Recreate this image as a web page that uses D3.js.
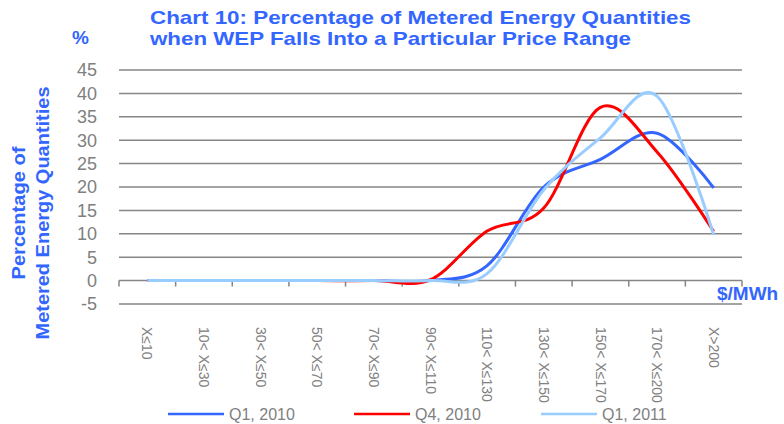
<!DOCTYPE html>
<html>
<head>
<meta charset="utf-8">
<script src="https://cdn.jsdelivr.net/npm/d3@7"></script>
<style>
  body { margin: 0; background: #fff; }
  text { font-family: "Liberation Sans", Arial, sans-serif; }
</style>
</head>
<body>
<div class="canvas"></div>
<script>
const categories = ['X≤10', '10< X≤30', '30< X≤50', '50< X≤70', '70< X≤90', '90< X≤110',
    '110< X≤130', '130< X≤150', '150< X≤170', '170< X≤200', 'X>200'];
const q1_2010 = [0, 0, 0, 0, 0, 0, 3.2, 20, 25.9, 31.5, 19.8];
const q4_2010 = [0, 0, 0, 0, 0, 0.2, 10.6, 15.5, 37, 27.5, 10.5];
const q1_2011 = [0, 0, 0, 0, 0, 0, 1.5, 19.4, 30.5, 39.4, 9.8];
const seriesNames = ['Q1, 2010', 'Q4, 2010', 'Q1, 2011'];
const yTicks = [-5, 0, 5, 10, 15, 20, 25, 30, 35, 40, 45];

const blue = '#3366ff';
const colour = d3.scaleOrdinal().domain(seriesNames).range(['#3366ff', '#ff0000', '#99ccff']);
const grey = '#808080';

const svg = d3.select('.canvas')
    .append('svg')
    .attr('width', 784)
    .attr('height', 424);

const x = d3.scaleBand().domain(categories).range([119, 742]);
const y = d3.scaleLinear().domain([-5, 45]).range([304, 70]);
const cx = d => x(d) + x.bandwidth() / 2;

// titles
const title = svg.append('g').attr('fill', blue).attr('font-weight', 'bold').attr('font-size', 19);
title.append('text').attr('x', 150).attr('y', 24)
    .attr('textLength', 541).attr('lengthAdjust', 'spacingAndGlyphs')
    .text('Chart 10: Percentage of Metered Energy Quantities');
title.append('text').attr('x', 150).attr('y', 45)
    .attr('textLength', 481).attr('lengthAdjust', 'spacingAndGlyphs')
    .text('when WEP Falls Into a Particular Price Range');
title.append('text').attr('x', 72).attr('y', 44).text('%');
title.append('text').attr('x', 717).attr('y', 300).attr('font-size', 19).text('$/MWh');

const yTitle = title.append('g').attr('transform', 'translate(0,213) rotate(-90)')
    .attr('text-anchor', 'middle');
yTitle.append('text').attr('x', 0).attr('y', 25)
    .attr('textLength', 133).attr('lengthAdjust', 'spacingAndGlyphs')
    .text('Percentage of');
yTitle.append('text').attr('x', 0).attr('y', 49)
    .attr('textLength', 253).attr('lengthAdjust', 'spacingAndGlyphs')
    .text('Metered Energy Quantities');

// gridlines
svg.append('g').selectAll('line')
    .data(yTicks)
    .join('line')
    .attr('x1', 119).attr('x2', 742)
    .attr('y1', d => y(d)).attr('y2', d => y(d))
    .attr('stroke', '#868686')
    .attr('stroke-width', 1.5);

// y tick labels
svg.append('g').selectAll('text')
    .data(yTicks)
    .join('text')
    .attr('x', 97)
    .attr('y', d => y(d))
    .attr('dy', '0.35em')
    .attr('text-anchor', 'end')
    .attr('font-size', 18)
    .attr('fill', grey)
    .text(d => d);

// x axis ticks on zero line
const bounds = categories.map(c => x(c)).concat([x.range()[1]]);
svg.append('g').selectAll('line')
    .data(bounds)
    .join('line')
    .attr('x1', d => d).attr('x2', d => d)
    .attr('y1', y(0)).attr('y2', y(0) + 6)
    .attr('stroke', '#868686')
    .attr('stroke-width', 1.5);

// x labels
svg.append('g').selectAll('text')
    .data(categories)
    .join('text')
    .attr('transform', d => `translate(${cx(d)}, 327) rotate(90)`)
    .attr('dy', '0.35em')
    .attr('font-size', 14)
    .attr('fill', grey)
    .text(d => d);

// lines
const series = [
    {name: 'Q1, 2010', values: q1_2010},
    {name: 'Q4, 2010', values: q4_2010},
    {name: 'Q1, 2011', values: q1_2011}
];
const line = d3.line()
    .x((d, i) => cx(categories[i]))
    .y(d => y(d))
    .curve(d3.curveCatmullRom.alpha(0));

svg.append('g').selectAll('path')
    .data(series)
    .join('path')
    .attr('d', d => line(d.values))
    .attr('fill', 'none')
    .attr('stroke', d => colour(d.name))
    .attr('stroke-width', 3);

// legend
const legendX = [168, 354, 541];
const legend = svg.append('g').selectAll('g')
    .data(seriesNames)
    .join('g')
    .attr('transform', (d, i) => `translate(${legendX[i]}, 414)`);
legend.append('line')
    .attr('x1', 0).attr('x2', 56)
    .attr('stroke', d => colour(d))
    .attr('stroke-width', 2.5);
legend.append('text')
    .attr('x', 61)
    .attr('dy', '0.35em')
    .attr('font-size', 16)
    .attr('fill', grey)
    .text(d => d);
</script>
</body>
</html>
